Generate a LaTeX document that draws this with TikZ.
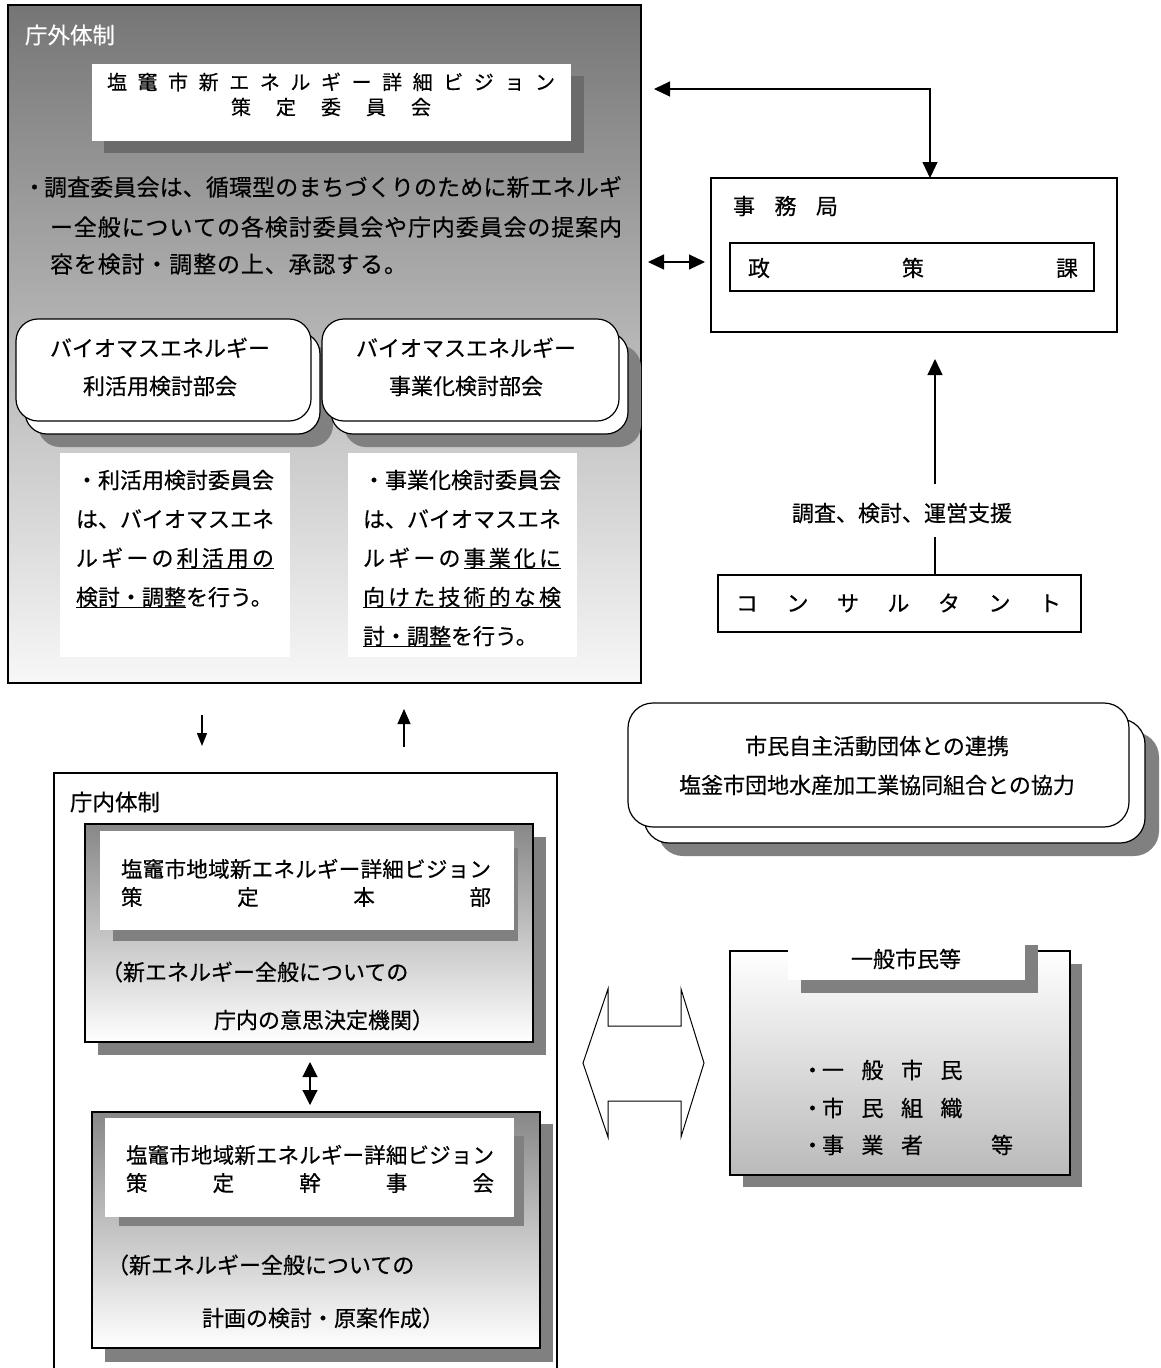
\documentclass[tikz,border=0pt]{standalone}
\usepackage{fontspec}
\setmainfont{Noto Sans CJK JP}[FakeBold=0.45]
\usetikzlibrary{arrows.meta}
\makeatletter
\newcommand\spreadto[2]{\hbox to #1{\sprd@first#2\sprd@stop}}
\def\sprd@first#1{#1\sprd@rest}
\def\sprd@rest#1{\ifx#1\sprd@stop\else\hfil#1\expandafter\sprd@rest\fi}
\let\sprd@stop\relax
\makeatother
\newcommand\ulb[1]{\setbox0\hbox{#1}\rlap{\rule[-2.4pt]{\wd0}{1.2pt}}\box0}
\newcommand\fsz[1]{\fontsize{#1}{#1}\selectfont}
\newcommand\bx[6][]{\node[bxs,#1,minimum width={(#5-#3)*1pt},minimum height={(#6-#4)*1pt}] (#2) at (#3,#4) {};}
\definecolor{shadowgray}{gray}{0.5}
\definecolor{shadowdark}{gray}{0.42}
\definecolor{gA}{gray}{0.46}
\definecolor{gB}{gray}{0.97}
\definecolor{gC}{gray}{0.53}
\definecolor{gD}{gray}{0.73}
\begin{document}
\begin{tikzpicture}[x=1pt,y=-1pt,
  bxs/.style={rectangle, inner sep=0pt, outer sep=0pt, anchor=north west},
  tx/.style={inner sep=0pt, outer sep=0pt, font=\fsz{#1}, text height={0.88*#1pt}, text depth={0.12*#1pt}},
  shd/.style={fill=shadowgray, draw=none},
  wht/.style={fill=white, draw=none},
  frm/.style={draw=black, line width=1.2pt},
  rbox/.style={fill=white, draw=black, line width=1.2pt, rounded corners=#1},
  bigarr/.style={{Triangle[length=16pt,width=15pt]}-{Triangle[length=16pt,width=15pt]}, line width=1.1pt},
  uparr/.style={-{Triangle[length=16pt,width=15pt]}, line width=1.1pt},
  smallarr/.style={-{Triangle[length=13pt,width=10pt]}, line width=1.1pt},
  midarr/.style={-{Triangle[length=15pt,width=13pt]}, line width=1.1pt},
  vdarr/.style={{Triangle[length=15pt,width=15pt]}-{Triangle[length=15pt,width=15pt]}, line width=1.1pt},
]
\useasboundingbox (0,0) rectangle (1160,1368);
\clip (0,0) rectangle (1160,1368);
\fill[white] (0,0) rectangle (1160,1368);

% ---------------- outer (庁外体制)
\bx[frm, top color=gA, bottom color=gB]{outer}{8}{5}{641}{683}
\node[tx=22.5, text=white, anchor=west] (lblout) at (25,35) {庁外体制};

\bx[fill=shadowdark, draw=none]{comsh}{104}{76}{584}{153}
\bx[wht]{com}{92}{64}{571}{141}
\node[tx=20] (comt1) at (331,82) {\spreadto{448pt}{塩竃市新エネルギー詳細ビジョン}};
\node[tx=20] (comt2) at (331,107) {\spreadto{200pt}{策定委員会}};

\node[tx=23, anchor=west] (p1) at (25,187) {\makebox[19pt][c]{・}\spreadto{578pt}{調査委員会は、循環型のまちづくりのために新エネルギ}};
\node[tx=23, anchor=west] (p2) at (50,227) {\spreadto{572pt}{ー全般についての各検討委員会や庁内委員会の提案内}};
\node[tx=23, anchor=west] (p3) at (50,264) {\spreadto{357pt}{容を検討・調整の上、承認する。}};

% rounded boxes
\bx[shd, rounded corners=22pt]{r1s}{38}{345}{333}{447}
\bx[shd, rounded corners=22pt]{r2s}{344}{345}{641}{447}
\bx[rbox=22pt]{r1b}{25}{332}{320}{434}
\bx[rbox=22pt]{r1}{16}{319}{311}{421}
\bx[rbox=22pt]{r2b}{331}{332}{628}{434}
\bx[rbox=22pt]{r2}{322}{319}{619}{421}
\node[tx=22] (r1t1) at (160,348) {バイオマスエネルギー};
\node[tx=22] (r1t2) at (160,386) {利活用検討部会};
\node[tx=22] (r2t1) at (466,348) {バイオマスエネルギー};
\node[tx=22] (r2t2) at (466,386) {事業化検討部会};

% sub text boxes
\bx[wht]{s1}{60}{453}{290}{657}
\bx[wht]{s2}{348}{453}{577}{657}
\node[tx=22, anchor=west] (s1a) at (76,480) {・利活用検討委員会};
\node[tx=22, anchor=west] (s1b) at (76,519) {は、バイオマスエネ};
\node[tx=22, anchor=west] (s1c) at (76,558) {\hbox to 198pt{ル\hfil ギ\hfil ー\hfil の\hfil\ulb{利\kern3.1pt 活\kern3.1pt 用\kern3.1pt の}}};
\node[tx=22, anchor=west] (s1d) at (76,597) {\ulb{検討・調整}を行う。};
\node[tx=22, anchor=west] (s2a) at (363,480) {・事業化検討委員会};
\node[tx=22, anchor=west] (s2b) at (363,519) {は、バイオマスエネ};
\node[tx=22, anchor=west] (s2c) at (363,558) {\hbox to 198pt{ル\hfil ギ\hfil ー\hfil の\hfil\ulb{事\kern3.1pt 業\kern3.1pt 化\kern3.1pt に}}};
\node[tx=22, anchor=west] (s2d) at (363,597) {\ulb{\spreadto{198pt}{向けた技術的な検}}};
\node[tx=22, anchor=west] (s2e) at (363,636) {\ulb{討・調整}を行う。};

% ---------------- 庁内体制
\bx[frm]{naisei}{54}{773}{557}{1420}
\node[tx=22.5, anchor=west] (lblin) at (70,802) {庁内体制};

\coordinate (xa) at (202,0);
\coordinate (xb) at (404,0);
\draw[smallarr, shorten <=32pt, shorten >=27pt] (outer.south -| xa) -- (naisei.north -| xa);
\draw[midarr, shorten <=26pt, shorten >=26pt] (naisei.north -| xb) -- (outer.south -| xb);

% box 1
\bx[shd]{b1s}{98}{837}{546}{1055}
\bx[frm, top color=gC, bottom color=white]{b1}{85}{824}{533}{1042}
\bx[shd]{b1ws}{113}{848}{518}{941}
\bx[wht]{b1w}{100}{831}{514}{930}
\node[tx=21.5, anchor=west] (b1t1) at (121,869) {\spreadto{370pt}{塩竈市地域新エネルギー詳細ビジョン}};
\node[tx=21.5, anchor=west] (b1t2) at (121,897) {\spreadto{370pt}{策定本部}};
\node[tx=22, anchor=west] (b1p1) at (101,972) {（新エネルギー全般についての};
\node[tx=22, anchor=west] (b1p2) at (214,1020) {庁内の意思決定機関）};

% box 2
\bx[shd]{b2s}{105}{1124}{553}{1362}
\bx[frm, top color=gC, bottom color=white]{b2}{92}{1112}{540}{1348}
\bx[shd]{b2ws}{119}{1136}{524}{1226}
\bx[wht]{b2w}{105}{1118}{514}{1217}
\node[tx=21.5, anchor=west] (b2t1) at (126,1155) {\spreadto{368pt}{塩竈市地域新エネルギー詳細ビジョン}};
\node[tx=21.5, anchor=west] (b2t2) at (126,1183) {\spreadto{368pt}{策定幹事会}};
\node[tx=22, anchor=west] (b2p1) at (107,1265) {（新エネルギー全般についての};
\node[tx=22, anchor=west] (b2p2) at (202,1318) {計画の検討・原案作成）};

\coordinate (xc) at (310,0);
\draw[vdarr, shorten <=20pt, shorten >=7pt] (b1.south -| xc) -- (b2.north -| xc);

% ---------------- right side
\bx[frm]{jimu}{711}{178}{1117}{332}
\node[tx=22, anchor=west] (jimut) at (733,206) {\spreadto{105pt}{事務局}};
\bx[draw=black, line width=1.2pt]{seisaku}{730}{243}{1094}{291}
\node[tx=22, anchor=west] (seit) at (748,268) {\spreadto{330pt}{政策課}};

\coordinate (ty) at (0,89);
\coordinate (xt) at (930,0);
\draw[bigarr, shorten <=13pt] (outer.east |- ty) -| (jimu.north -| xt);
\coordinate (yy) at (0,262);
\draw[bigarr, shorten <=7pt, shorten >=6pt] (outer.east |- yy) -- (jimu.west |- yy);

\bx[frm]{cons}{718}{575}{1081}{632}
\node[tx=22, anchor=west] (const) at (736,603) {\spreadto{325pt}{コンサルタント}};
\node[tx=22] (supp) at (902,513) {調査、検討、運営支援};
\coordinate (xu) at (935,0);
\draw[line width=1.1pt, shorten >=13pt] (cons.north -| xu) -- (supp.south -| xu);
\draw[uparr, shorten <=18pt, shorten >=27pt] (supp.north -| xu) -- (jimu.south -| xu);

% 市民自主活動
\bx[shd, rounded corners=25pt]{cvs}{658}{732}{1159}{856}
\bx[rbox=25pt]{cvb}{644}{719}{1145}{843}
\bx[rbox=25pt]{cv}{628}{703}{1129}{827}
\node[tx=22] (cvt1) at (877,746) {市民自主活動団体との連携};
\node[tx=22] (cvt2) at (877,785) {塩釜市団地水産加工業協同組合との協力};

% hollow double arrow
\draw[line width=1pt, fill=white] (583,1063) -- (608,989) -- (608,1026) -- (681,1026) -- (681,989) -- (704,1063) -- (681,1137) -- (681,1101) -- (608,1101) -- (608,1137) -- cycle;

% 一般市民等
\bx[shd]{ips}{743}{964}{1082}{1187}
\bx[draw=black, line width=1.2pt, top color=white, bottom color=gD]{ip}{730}{951}{1070}{1175}
\bx[shd]{iptabs}{801}{945}{1038}{993}
\bx[wht]{iptab}{788}{932}{1025}{980}
\node[tx=22] (iptt) at (906,959) {一般市民等};
\node[tx=22, anchor=west] (i1) at (803,1070) {\makebox[19pt][c]{・}一\hspace{17.5pt}般\hspace{17.5pt}市\hspace{17.5pt}民};
\node[tx=22, anchor=west] (i2) at (803,1108) {\makebox[19pt][c]{・}市\hspace{17.5pt}民\hspace{17.5pt}組\hspace{17.5pt}織};
\node[tx=22, anchor=west] (i3) at (803,1145) {\makebox[19pt][c]{・}事\hspace{17.5pt}業\hspace{17.5pt}者\hspace{68pt}等};
\end{tikzpicture}
\end{document}
